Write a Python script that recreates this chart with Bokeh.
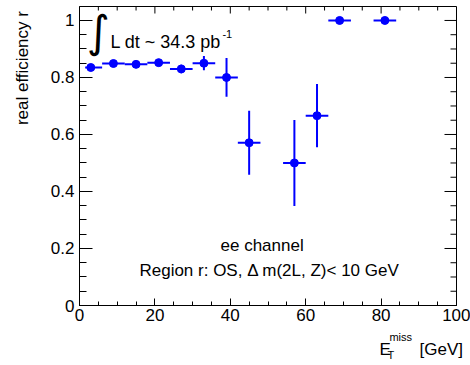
import math
from bokeh.plotting import figure
from bokeh.models import Range1d, SingleIntervalTicker, Label, ColumnDataSource
from bokeh.layouts import column, row
from bokeh.embed import file_html
from bokeh.resources import INLINE

# ---- data ----
met_center = [3, 9, 15, 21, 27, 33, 39, 45, 57, 63, 69, 81]
met_low = [1.5, 6, 12, 18, 24, 30, 36, 42, 54, 60, 66, 78]
met_high = [6, 12, 18, 24, 30, 36, 42, 48, 60, 66, 72, 84]
efficiency = [0.835, 0.849, 0.846, 0.852, 0.830, 0.850, 0.800, 0.571, 0.500, 0.666, 1.0, 1.0]
eff_error = [0.008, 0.008, 0.008, 0.008, 0.015, 0.025, 0.068, 0.112, 0.151, 0.111, 0.0, 0.0]
x_tick_major = 20
x_tick_minor = 5
y_tick_major = 0.2
y_tick_minor = 0.05
x_max = 100
y_max = 1.049

FONT = "Liberation Sans"
BLUE = "#0000ff"

src = ColumnDataSource(dict(
    x=met_center, xl=met_low, xh=met_high, y=efficiency,
    yl=[e - d for e, d in zip(efficiency, eff_error)],
    yh=[e + d for e, d in zip(efficiency, eff_error)],
))

LEFT_W = 38
p = figure(width=470 - LEFT_W, height=327, output_backend="svg", toolbar_location=None,
           x_range=Range1d(0, x_max), y_range=Range1d(0, y_max),
           min_border_left=79 - LEFT_W, min_border_right=14, min_border_top=6, min_border_bottom=22,
           background_fill_color="white", border_fill_color="white")
p.grid.visible = False
p.outline_line_color = "black"
p.outline_line_width = 1

xt = SingleIntervalTicker(interval=x_tick_major, num_minor_ticks=4)
yt = SingleIntervalTicker(interval=y_tick_major, num_minor_ticks=4)

def style(ax, tin, min_in):
    ax.major_tick_in = tin
    ax.major_tick_out = 0
    ax.minor_tick_in = min_in
    ax.minor_tick_out = 0
    ax.axis_line_color = "black"
    ax.major_tick_line_color = "black"
    ax.minor_tick_line_color = "black"
    ax.axis_label = None
    ax.major_label_text_font = FONT
    ax.major_label_text_font_size = "17px"
    ax.major_label_text_color = "black"

p.xaxis.ticker = xt
p.yaxis.ticker = yt
style(p.xaxis[0], 7, 4)
style(p.yaxis[0], 13, 7)
p.xaxis.major_label_standoff = 3
p.yaxis.major_label_standoff = 5
p.yaxis.major_label_overrides = {0: "0", 1: "1"}

# ticks on the top and right frame edges
n_x = int(round(x_max / x_tick_minor))
top_x = [i * x_tick_minor for i in range(n_x + 1)]
top_len = [7 if i % 4 == 0 else 4 for i in range(n_x + 1)]
p.ray(x=top_x, y=[y_max] * len(top_x), length=top_len, length_units="screen",
      angle=-math.pi / 2, line_color="black", line_width=1)
n_y = int(y_max / y_tick_minor + 1e-9)
right_y = [i * y_tick_minor for i in range(n_y + 1)]
right_len = [12 if i % 4 == 0 else 6 for i in range(n_y + 1)]
p.ray(x=[x_max] * len(right_y), y=right_y, length=right_len, length_units="screen",
      angle=math.pi, line_color="black", line_width=1)

# error bars and markers
p.segment(x0="xl", x1="xh", y0="y", y1="y", source=src, line_color=BLUE, line_width=2)
p.segment(x0="x", x1="x", y0="yl", y1="yh", source=src, line_color=BLUE, line_width=2)
p.scatter(x="x", y="y", source=src, size=8, marker="circle", fill_color=BLUE, line_color=BLUE)

def lab(fig, text, x, y, size, align="left", baseline="alphabetic", font=FONT, angle=0.0):
    fig.add_layout(Label(x=x, y=y, text=text, text_font=font, text_font_size=size,
                         text_align=align, text_baseline=baseline, text_color="black",
                         angle=angle))

# luminosity
lab(p, "\u222b", 5.0, 0.963, "44px", align="center", baseline="middle", font="DejaVu Sans")
lab(p, "L dt ~ 34.3 pb", 8.2, 0.926, "18px")
lab(p, "-1", 37.9, 0.954, "11px")

# channel text
lab(p, "ee channel", 37.4, 0.2105, "17px")
lab(p, "Region r: OS, \u0394 m(2L, Z)< 10 GeV", 15.9, 0.123, "17px")

def strip(w, h, x_end):
    f = figure(width=w, height=h, output_backend="svg", toolbar_location=None,
               x_range=Range1d(0, x_end), y_range=Range1d(0, h),
               min_border_left=0, min_border_right=0, min_border_top=0, min_border_bottom=0,
               x_axis_location=None, y_axis_location=None,
               background_fill_color="white", border_fill_color="white")
    f.grid.visible = False
    f.outline_line_color = None
    return f

# y axis title strip (pixel-like coordinates)
ys = strip(LEFT_W, 327, LEFT_W)
lab(ys, "real efficiency r", 22, 322, "17px", align="right", angle=math.pi / 2)

# x axis title strip (same horizontal scale as the main frame, from the frame's left edge)
strip_x_end = x_max * (470 - 79) / (456 - 79)
q = figure(width=470, height=38, output_backend="svg", toolbar_location=None,
           x_range=Range1d(0, strip_x_end), y_range=Range1d(0, 38),
           min_border_left=79, min_border_right=0, min_border_top=0, min_border_bottom=0,
           x_axis_location=None, y_axis_location=None,
           background_fill_color="white", border_fill_color="white")
q.grid.visible = False
q.outline_line_color = None
lab(q, "E", 79.6, 16, "17px")
lab(q, "T", 81.7, 11, "11px")
lab(q, "miss", 82.2, 29, "11px")
lab(q, "[GeV]", 90.2, 16, "17px")

page = column(row(ys, p, spacing=0), q, spacing=0)
open("out.html", "w").write(file_html(page, INLINE))
